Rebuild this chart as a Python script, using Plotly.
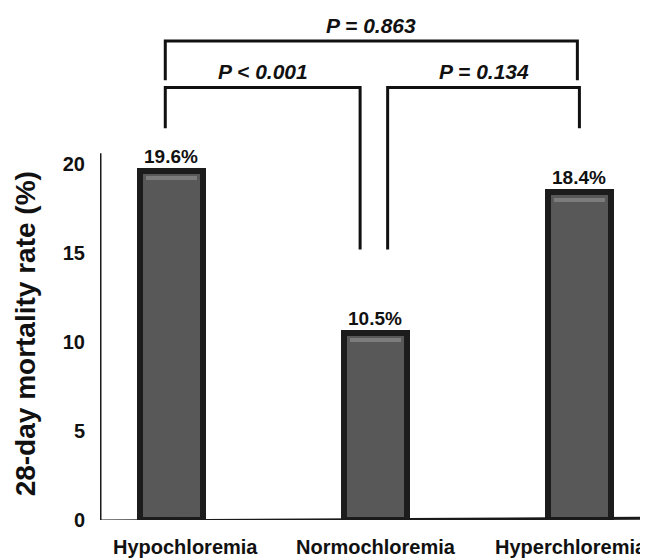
import plotly.graph_objects as go

# ---- data ----
categories = ["Hypochloremia", "Normochloremia", "Hyperchloremia"]
mortality = [19.6, 10.5, 18.4]
value_labels = ["19.6%", "10.5%", "18.4%"]
y_ticks = [0, 5, 10, 15, 20]
comparison_pairs = [(0, 1), (1, 2), (0, 2)]
p_labels = ["P < 0.001", "P = 0.134", "P = 0.863"]

FONT = "Arial, Liberation Sans, sans-serif"
X_RANGE = [-0.35, 2.297]
Y_RANGE = [0, 28.76]

fig = go.Figure()
xs = list(range(len(categories)))
fig.add_trace(go.Bar(
    x=xs, y=mortality, width=0.31,
    marker=dict(color="#585858", line=dict(color="#1c1c1c", width=6)),
    hoverinfo="skip", showlegend=False,
))
# subtle highlight band just under each bar top
fig.add_trace(go.Bar(
    x=xs, y=[0.22] * len(xs), base=[v - 0.52 for v in mortality], width=0.25,
    marker=dict(color="#7c7c7c", line=dict(width=0)),
    hoverinfo="skip", showlegend=False,
))

shapes = []
annotations = []

# axis lines
shapes.append(dict(type="line", xref="x", yref="y", x0=X_RANGE[0], x1=X_RANGE[0],
                   y0=0, y1=20.6, line=dict(color="#1a1a1a", width=3)))
shapes.append(dict(type="line", xref="x", yref="y", x0=X_RANGE[0], x1=X_RANGE[1],
                   y0=-0.06, y1=0.1, line=dict(color="#1a1a1a", width=3)))

# value labels
for x, v, t in zip(xs, mortality, value_labels):
    annotations.append(dict(x=x, y=v, xref="x", yref="y", text=f"<b>{t}</b>",
                            showarrow=False, yanchor="middle", yshift=15,
                            font=dict(family=FONT, size=19, color="#111")))

# category labels
cat_shift = [14, 1, -8]
for x, c, s in zip(xs, categories, cat_shift):
    annotations.append(dict(x=x, y=0, xref="x", yref="y", text=f"<b>{c}</b>",
                            showarrow=False, yanchor="middle", yshift=-27, xshift=s,
                            font=dict(family=FONT, size=20, color="#111")))

# significance brackets
line_style = dict(color="#111", width=3)
for (a, b), lab in zip(comparison_pairs, p_labels):
    if b - a == 1:
        level = 24.3
        xa = a + (0.06 if a == 1 else -0.03)
        xb = b + (-0.075 if b == 1 else 0.0)
        ya = 15.2 if a == 1 else 22.0
        yb = 15.2 if b == 1 else 22.0
    else:
        level = 26.9
        xa, xb = a - 0.03, b - 0.01
        ya = yb = 24.7
    shapes.append(dict(type="path", xref="x", yref="y",
                       path=f"M {xa},{ya} L {xa},{level} L {xb},{level} L {xb},{yb}",
                       line=line_style))
    annotations.append(dict(x=(xa + xb) / 2, y=level, xref="x", yref="y",
                            text=f"<b><i>{lab}</i></b>", showarrow=False,
                            yanchor="middle", yshift=16,
                            font=dict(family=FONT, size=21, color="#111")))

# y-axis title
annotations.append(dict(x=-0.1385, y=0.363, xref="paper", yref="paper",
                        text="<b>28-day mortality rate (%)</b>", textangle=-90,
                        showarrow=False, xanchor="center", yanchor="middle",
                        font=dict(family=FONT, size=28, color="#111")))

fig.update_layout(
    width=640, height=552,
    margin=dict(l=92, r=8, t=0, b=40),
    paper_bgcolor="white", plot_bgcolor="white",
    barmode="overlay",
    xaxis=dict(range=X_RANGE, showgrid=False, zeroline=False, showline=False,
               showticklabels=False, ticks="", fixedrange=True),
    yaxis=dict(range=Y_RANGE, showgrid=False, zeroline=False, showline=False,
               tickvals=y_ticks, ticktext=[f"<b>{t}</b>" for t in y_ticks],
               ticks="", ticklabelstandoff=14,
               tickfont=dict(family=FONT, size=20, color="#111"), fixedrange=True),
    shapes=shapes, annotations=annotations,
    bargap=0,
)

fig.write_html("out.html")
